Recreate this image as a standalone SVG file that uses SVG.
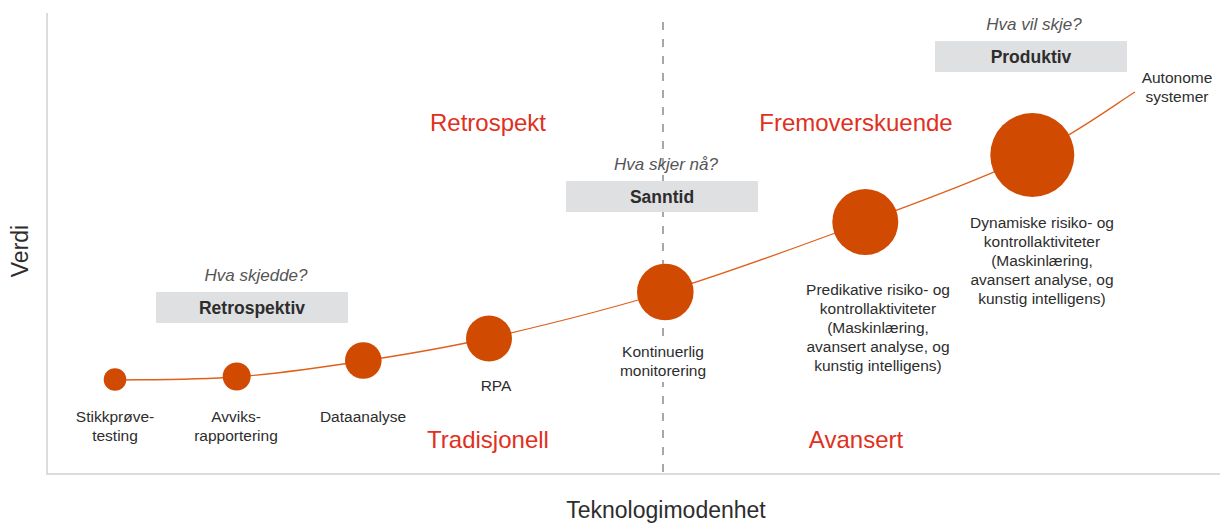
<svg xmlns="http://www.w3.org/2000/svg" width="1220" height="524" viewBox="0 0 1220 524">
  <style>
    .axis { stroke: #dcdcdc; stroke-width: 2; fill: none; }
    .divider { stroke: #8a8a8a; stroke-width: 1.5; stroke-dasharray: 8 9; fill: none; }
    .curve { stroke: #e0601a; stroke-width: 1.3; fill: none; }
    .dot { fill: #d04a02; }
    .axis-label { font-family: "Liberation Sans", Arial, sans-serif; font-size: 23px; fill: #2d2d2d; text-anchor: middle; }
    .zone { font-family: "Liberation Sans", Arial, sans-serif; font-size: 24px; fill: #e0301e; text-anchor: middle; }
    .question { font-family: "Liberation Sans", Arial, sans-serif; font-size: 17px; font-style: italic; fill: #555555; text-anchor: middle; }
    .tag-box { fill: #dfe0e2; }
    .tag-text { font-family: "Liberation Sans", Arial, sans-serif; font-size: 17.5px; font-weight: bold; fill: #2d2d2d; text-anchor: middle; }
    .label { font-family: "Liberation Sans", Arial, sans-serif; font-size: 15.5px; fill: #2d2d2d; text-anchor: middle; }
    .knockout { fill: #ffffff; }
  </style>

  <rect width="1220" height="524" fill="#ffffff"/>

  <!-- axes -->
  <g id="axes">
    <path class="axis" d="M47 13 V474 H1220"/>
    <text class="axis-label" transform="translate(28 251) rotate(-90)">Verdi</text>
    <text class="axis-label" x="666" y="518">Teknologimodenhet</text>
  </g>

  <!-- now / future divider -->
  <g id="divider">
    <path class="divider" d="M663 22 V474"/>
  </g>

  <!-- zone titles -->
  <g id="zones">
    <text class="zone" x="488" y="131">Retrospekt</text>
    <text class="zone" x="856" y="131">Fremoverskuende</text>
    <text class="zone" x="488" y="448">Tradisjonell</text>
    <text class="zone" x="856" y="448">Avansert</text>
  </g>

  <!-- maturity curve -->
  <g id="connectors">
    <path class="curve" d="M115 380 C135.2 379.5 194.7 380.2 236 377 C277.3 373.8 320.8 367.5 363 361 C405.2 354.5 438.7 349.5 489 338 C539.3 326.5 602.3 311.3 665 292 C727.7 272.7 803.8 244.8 865 222 C926.2 199.2 987 176.7 1032 155 C1077 133.3 1117.8 102.5 1135 92"/>
  </g>

  <!-- phase tags -->
  <g id="tag-retrospektiv">
    <text class="question" x="256" y="281">Hva skjedde?</text>
    <rect class="tag-box" x="156" y="292" width="192" height="31"/>
    <text class="tag-text" x="252" y="313.5">Retrospektiv</text>
  </g>
  <g id="tag-sanntid">
    <text class="question" x="666" y="170">Hva skjer nå?</text>
    <rect class="tag-box" x="566" y="181" width="192" height="31"/>
    <text class="tag-text" x="662" y="202.5">Sanntid</text>
  </g>
  <g id="tag-produktiv">
    <text class="question" x="1034" y="30">Hva vil skje?</text>
    <rect class="tag-box" x="935" y="41" width="192" height="31"/>
    <text class="tag-text" x="1031" y="62.5">Produktiv</text>
  </g>

  <!-- stages -->
  <g id="node-stikkprove">
    <circle class="dot" cx="115" cy="379.5" r="11.3"/>
    <text class="label" x="115" y="422">Stikkprøve-</text>
    <text class="label" x="115" y="441">testing</text>
  </g>
  <g id="node-avviks">
    <circle class="dot" cx="236.7" cy="376.5" r="14"/>
    <text class="label" x="236" y="422">Avviks-</text>
    <text class="label" x="236" y="441">rapportering</text>
  </g>
  <g id="node-dataanalyse">
    <circle class="dot" cx="363.3" cy="360.5" r="18.3"/>
    <text class="label" x="363" y="422">Dataanalyse</text>
  </g>
  <g id="node-rpa">
    <circle class="dot" cx="489" cy="338.5" r="23"/>
    <text class="label" x="496" y="391">RPA</text>
  </g>
  <g id="node-kontinuerlig">
    <circle class="dot" cx="665.3" cy="292" r="28.3"/>
    <!-- white backing so the dashed divider does not run through the label -->
    <rect class="knockout" x="616" y="342" width="96" height="40"/>
    <text class="label" x="663" y="357">Kontinuerlig</text>
    <text class="label" x="663" y="376">monitorering</text>
  </g>
  <g id="node-predikative">
    <circle class="dot" cx="865.3" cy="222" r="33"/>
    <text class="label" x="878" y="295">Predikative risiko- og</text>
    <text class="label" x="878" y="314">kontrollaktiviteter</text>
    <text class="label" x="878" y="333">(Maskinlæring,</text>
    <text class="label" x="878" y="352">avansert analyse, og</text>
    <text class="label" x="878" y="371">kunstig intelligens)</text>
  </g>
  <g id="node-dynamiske">
    <circle class="dot" cx="1032.3" cy="155" r="42"/>
    <text class="label" x="1042" y="228">Dynamiske risiko- og</text>
    <text class="label" x="1042" y="247">kontrollaktiviteter</text>
    <text class="label" x="1042" y="266">(Maskinlæring,</text>
    <text class="label" x="1042" y="285">avansert analyse, og</text>
    <text class="label" x="1042" y="304">kunstig intelligens)</text>
  </g>
  <g id="node-autonome">
    <text class="label" x="1177" y="83">Autonome</text>
    <text class="label" x="1177" y="102">systemer</text>
  </g>
</svg>
